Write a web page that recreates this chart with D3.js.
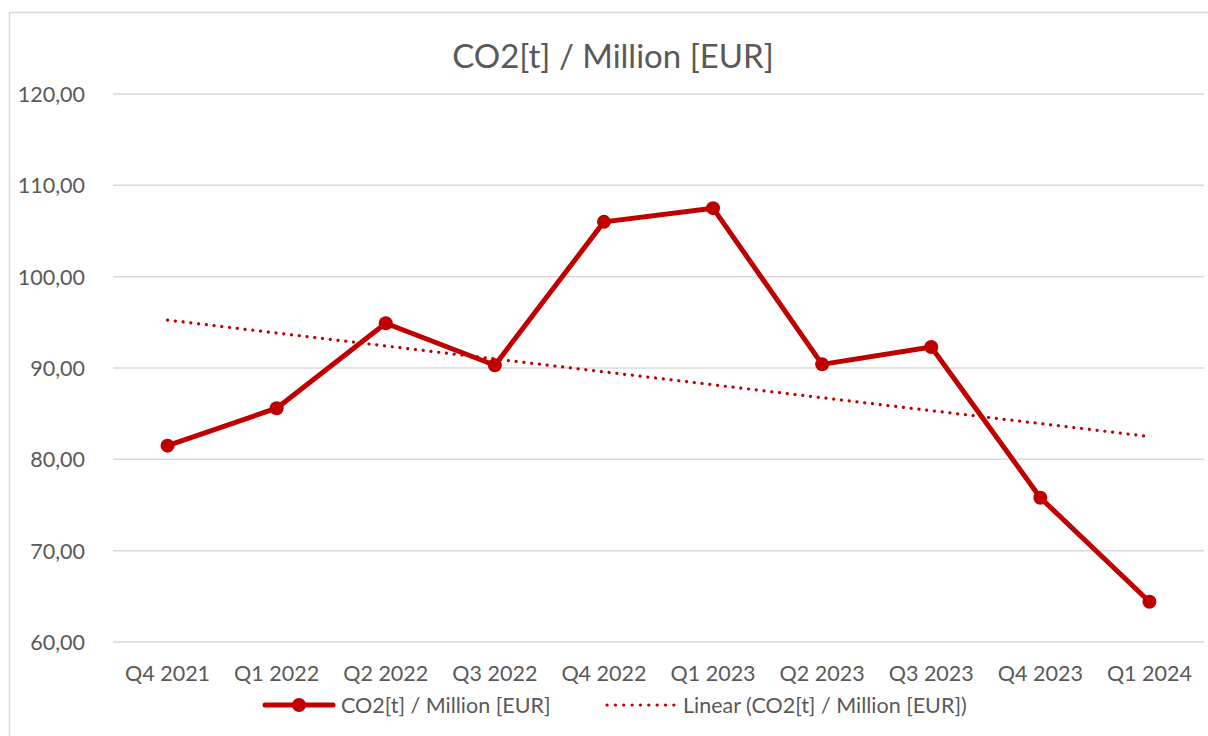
<!DOCTYPE html>
<html>
<head>
<meta charset="utf-8">
<script src="https://cdn.jsdelivr.net/npm/d3@7"></script>
<style>
  html, body { margin: 0; padding: 0; background: #fff; }
  svg text { font-family: Lato, "Open Sans", sans-serif; fill: #595959; }
</style>
</head>
<body>
<div id="chart"></div>
<script>
// Data
const CATEGORIES = ["Q4 2021","Q1 2022","Q2 2022","Q3 2022","Q4 2022","Q1 2023","Q2 2023","Q3 2023","Q4 2023","Q1 2024"];
const VALUES     = [81.5, 85.6, 94.9, 90.3, 106.0, 107.5, 90.4, 92.3, 75.8, 64.4];
const Y_TICKS    = [60, 70, 80, 90, 100, 110, 120];
const TITLE      = "CO2[t] / Million [EUR]";
const SERIES_NAME = "CO2[t] / Million [EUR]";
const TREND_NAME  = "Linear (CO2[t] / Million [EUR])";

const W = 1208, H = 736;
const margin = { top: 94, right: 4, bottom: 94, left: 113 };
const RED = "#c00000";
const LABEL_SIZE = "21.5px";

const svg = d3.select("#chart").append("svg")
  .attr("width", W).attr("height", H);

// chart frame (runs past the right/bottom edge as in the reference)
svg.append("rect")
  .attr("x", 9.5).attr("y", 12.5)
  .attr("width", W + 20).attr("height", H + 20)
  .attr("fill", "none").attr("stroke", "#d9d9d9").attr("stroke-width", 1.5);

svg.append("text")
  .attr("x", 613).attr("y", 68)
  .attr("text-anchor", "middle")
  .style("font-size", "33px")
  .text(TITLE);

const x = d3.scalePoint()
  .domain(CATEGORIES)
  .range([margin.left, W - margin.right])
  .padding(0.5);

const y = d3.scaleLinear()
  .domain([60, 120])
  .range([H - margin.bottom, margin.top]);

// gridlines
svg.append("g")
  .selectAll("line")
  .data(Y_TICKS)
  .join("line")
    .attr("x1", margin.left).attr("x2", W - margin.right)
    .attr("y1", d => y(d)).attr("y2", d => y(d))
    .attr("stroke", "#d9d9d9").attr("stroke-width", 1.5);

// y labels
const fmt = d => d3.format(".2f")(d).replace(".", ",");
svg.append("g")
  .selectAll("text")
  .data(Y_TICKS)
  .join("text")
    .attr("x", 85)
    .attr("y", d => y(d))
    .attr("text-anchor", "end")
    .attr("dominant-baseline", "central")
    .style("font-size", LABEL_SIZE)
    .text(fmt);

// x labels
svg.append("g")
  .selectAll("text")
  .data(CATEGORIES)
  .join("text")
    .attr("x", d => x(d))
    .attr("y", 673)
    .attr("text-anchor", "middle")
    .attr("dominant-baseline", "central")
    .style("font-size", LABEL_SIZE)
    .text(d => d);

// linear trend (least squares over the series, like a spreadsheet trendline)
const idx = d3.range(VALUES.length);
const mx = d3.mean(idx), my = d3.mean(VALUES);
const slope = d3.sum(idx, i => (i - mx) * (VALUES[i] - my)) / d3.sum(idx, i => (i - mx) ** 2);
const icpt = my - slope * mx;
const trendPts = [0, VALUES.length - 1].map(i => [x(CATEGORIES[i]), y(icpt + slope * i)]);

svg.append("path")
  .attr("d", d3.line()(trendPts))
  .attr("fill", "none")
  .attr("stroke", RED)
  .attr("stroke-width", 3.2)
  .attr("stroke-linecap", "round")
  .attr("stroke-dasharray", "0.1 7.7");

// main series
svg.append("path")
  .datum(VALUES)
  .attr("d", d3.line().x((d, i) => x(CATEGORIES[i])).y(d => y(d)))
  .attr("fill", "none")
  .attr("stroke", RED)
  .attr("stroke-width", 5)
  .attr("stroke-linejoin", "round");

svg.append("g")
  .selectAll("circle")
  .data(VALUES)
  .join("circle")
    .attr("cx", (d, i) => x(CATEGORIES[i]))
    .attr("cy", d => y(d))
    .attr("r", 7)
    .attr("fill", RED);

// legend
const ly = 705;
const leg = svg.append("g");
leg.append("line")
  .attr("x1", 265).attr("x2", 333).attr("y1", ly).attr("y2", ly)
  .attr("stroke", RED).attr("stroke-width", 5).attr("stroke-linecap", "round");
leg.append("circle").attr("cx", 299).attr("cy", ly).attr("r", 7).attr("fill", RED);
leg.append("text")
  .attr("x", 341).attr("y", ly)
  .attr("dominant-baseline", "central")
  .style("font-size", LABEL_SIZE)
  .text(SERIES_NAME);

leg.append("line")
  .attr("x1", 607).attr("x2", 674).attr("y1", ly).attr("y2", ly)
  .attr("stroke", RED).attr("stroke-width", 3.2)
  .attr("stroke-linecap", "round").attr("stroke-dasharray", "0.1 8.25");
leg.append("text")
  .attr("x", 683).attr("y", ly)
  .attr("dominant-baseline", "central")
  .style("font-size", LABEL_SIZE)
  .text(TREND_NAME);
</script>
</body>
</html>
